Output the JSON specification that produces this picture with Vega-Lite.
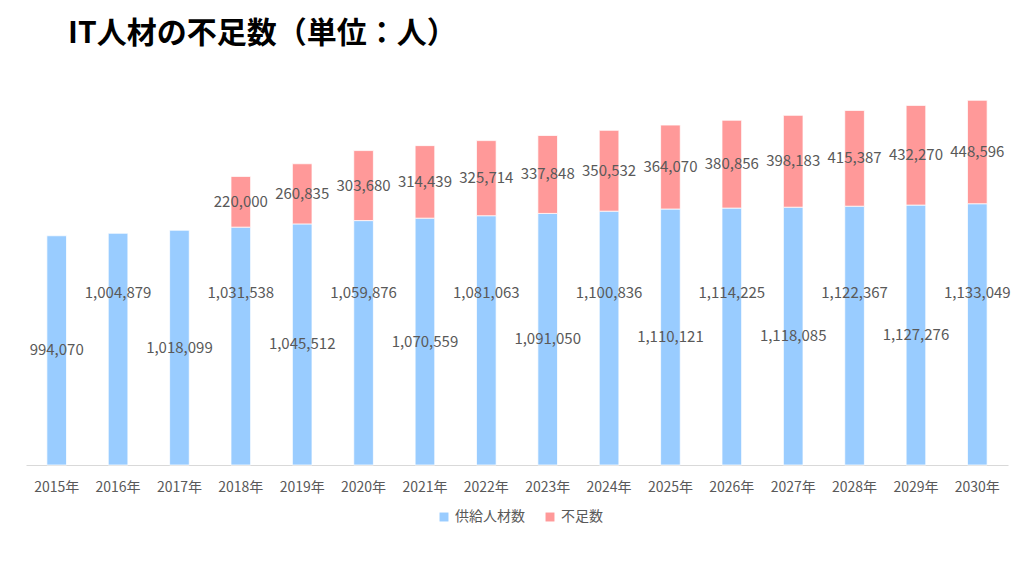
{
  "$schema": "https://vega.github.io/schema/vega-lite/v6.json",
  "autosize": "none",
  "width": 982,
  "height": 392,
  "padding": {"left": 26, "top": 73, "right": 16, "bottom": 111},
  "background": "white",
  "title": {
    "text": "IT人材の不足数（単位：人）",
    "anchor": "start",
    "frame": "group",
    "dx": 42,
    "offset": 24,
    "fontSize": 30,
    "fontWeight": "bold",
    "color": "#000000",
    "font": "Noto Sans CJK JP"
  },
  "config": {
    "view": {"stroke": null},
    "font": "Noto Sans CJK JP",
    "text": {"font": "Noto Sans CJK JP"}
  },
  "data": {
    "values": [
      {"year": "2015年", "category": "供給人材数", "value": 994070},
      {"year": "2016年", "category": "供給人材数", "value": 1004879},
      {"year": "2017年", "category": "供給人材数", "value": 1018099},
      {"year": "2018年", "category": "供給人材数", "value": 1031538},
      {"year": "2019年", "category": "供給人材数", "value": 1045512},
      {"year": "2020年", "category": "供給人材数", "value": 1059876},
      {"year": "2021年", "category": "供給人材数", "value": 1070559},
      {"year": "2022年", "category": "供給人材数", "value": 1081063},
      {"year": "2023年", "category": "供給人材数", "value": 1091050},
      {"year": "2024年", "category": "供給人材数", "value": 1100836},
      {"year": "2025年", "category": "供給人材数", "value": 1110121},
      {"year": "2026年", "category": "供給人材数", "value": 1114225},
      {"year": "2027年", "category": "供給人材数", "value": 1118085},
      {"year": "2028年", "category": "供給人材数", "value": 1122367},
      {"year": "2029年", "category": "供給人材数", "value": 1127276},
      {"year": "2030年", "category": "供給人材数", "value": 1133049},
      {"year": "2018年", "category": "不足数", "value": 220000},
      {"year": "2019年", "category": "不足数", "value": 260835},
      {"year": "2020年", "category": "不足数", "value": 303680},
      {"year": "2021年", "category": "不足数", "value": 314439},
      {"year": "2022年", "category": "不足数", "value": 325714},
      {"year": "2023年", "category": "不足数", "value": 337848},
      {"year": "2024年", "category": "不足数", "value": 350532},
      {"year": "2025年", "category": "不足数", "value": 364070},
      {"year": "2026年", "category": "不足数", "value": 380856},
      {"year": "2027年", "category": "不足数", "value": 398183},
      {"year": "2028年", "category": "不足数", "value": 415387},
      {"year": "2029年", "category": "不足数", "value": 432270},
      {"year": "2030年", "category": "不足数", "value": 448596}
    ]
  },
  "encoding": {
    "x": {
      "field": "year",
      "type": "nominal",
      "sort": null,
      "scale": {"paddingInner": 0.68, "paddingOuter": 0.34},
      "axis": {
        "title": null,
        "labelAngle": 0,
        "labelFontSize": 14,
        "labelColor": "#595959",
        "labelPadding": 15,
        "ticks": false,
        "domainColor": "#d9d9d9",
        "domainWidth": 1
      }
    }
  },
  "layer": [
    {
      "mark": {"type": "bar", "stroke": "#ffffff", "strokeWidth": 0.75},
      "encoding": {
        "y": {
          "field": "value",
          "type": "quantitative",
          "stack": "zero",
          "scale": {"domain": [0, 1700000], "nice": false},
          "axis": null
        },
        "color": {
          "field": "category",
          "type": "nominal",
          "scale": {"domain": ["供給人材数", "不足数"], "range": ["#99ccff", "#ff9999"]},
          "legend": {
            "title": null,
            "orient": "none",
            "legendX": 411,
            "legendY": 437,
            "direction": "horizontal",
            "symbolType": "square",
            "symbolSize": 80,
            "symbolStrokeWidth": 0,
            "labelFontSize": 14,
            "labelColor": "#595959",
            "labelFont": "Noto Sans CJK JP",
            "labelOffset": 4,
            "columnPadding": 18
          }
        },
        "order": {"field": "category", "sort": "descending"}
      }
    },
    {
      "mark": {"type": "text", "fontSize": 15, "color": "#595959"},
      "encoding": {
        "y": {"field": "value", "type": "quantitative", "stack": "zero", "bandPosition": 0.5},
        "order": {"field": "category", "sort": "descending"},
        "text": {"field": "value", "type": "quantitative", "format": ",d"},
        "opacity": {
          "condition": {
            "test": "datum.category === '供給人材数' && indexof(['2016年','2018年','2020年','2022年','2024年','2026年','2028年','2030年'], datum.year) >= 0",
            "value": 0
          },
          "value": 1
        }
      }
    },
    {
      "transform": [
        {"filter": {"field": "category", "equal": "供給人材数"}},
        {"filter": {"field": "year", "oneOf": ["2016年", "2018年", "2020年", "2022年", "2024年", "2026年", "2028年", "2030年"]}}
      ],
      "mark": {"type": "text", "fontSize": 15, "color": "#595959"},
      "encoding": {
        "y": {"datum": 745000, "type": "quantitative"},
        "text": {"field": "value", "type": "quantitative", "format": ",d"}
      }
    }
  ]
}
